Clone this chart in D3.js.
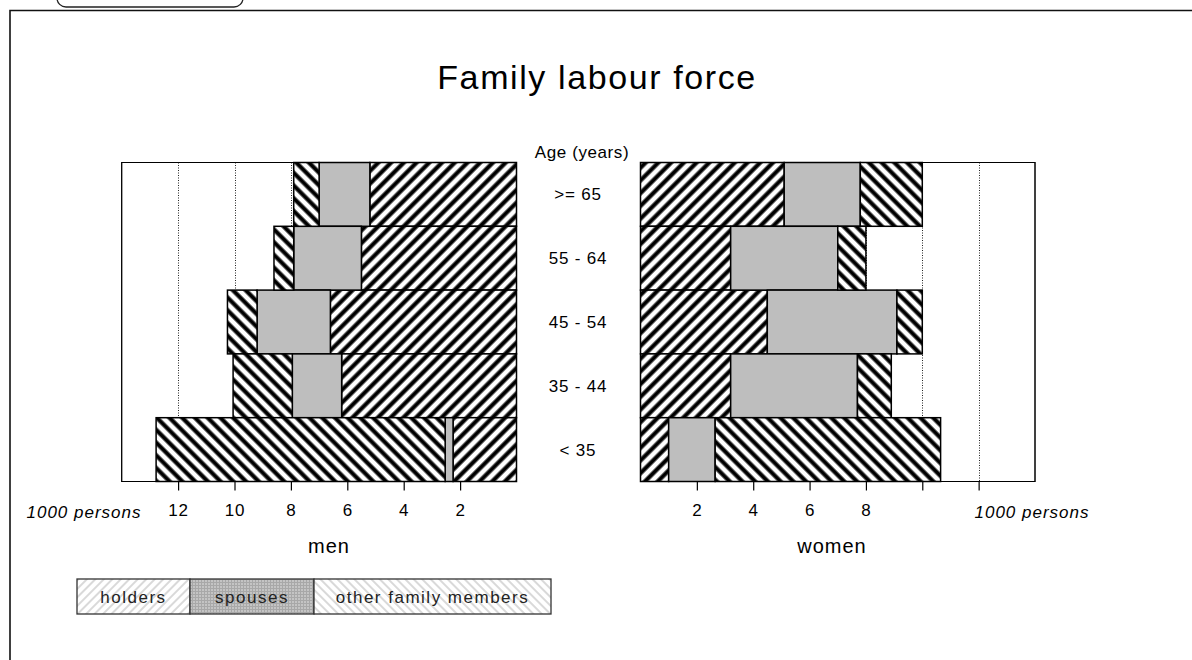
<!DOCTYPE html>
<html>
<head>
<meta charset="utf-8">
<script src="https://cdn.jsdelivr.net/npm/d3@7"></script>
<style>
  body { margin: 0; background: #fff; }
  svg { display: block; font-family: "Liberation Sans", Arial, sans-serif; }
</style>
</head>
<body>
<div id="chart"></div>
<script>
// Age groups, top to bottom
const ages = [">= 65", "55 - 64", "45 - 54", "35 - 44", "< 35"];

// values in 1000 persons
const menHolders   = [5.2, 5.5, 6.6, 6.2, 2.25];
const menSpouses   = [1.8, 2.4, 2.6, 1.75, 0.28];
const menOthers    = [0.9, 0.7, 1.05, 2.1, 10.25];
const womenHolders = [5.1, 3.2, 4.5, 3.2, 1.0];
const womenSpouses = [2.7, 3.8, 4.6, 4.5, 1.65];
const womenOthers  = [2.2, 1.0, 0.9, 1.2, 8.0];

const menTicks = [12, 10, 8, 6, 4, 2];
const womenTicks = [2, 4, 6, 8, 10, 12];
const womenTickLabels = [2, 4, 6, 8];
const gridValues = [8, 10, 12];
const legendLabels = ["holders", "spouses", "other family members"];

const width = 1192, height = 660;

const svg = d3.select("#chart").append("svg")
    .attr("width", width)
    .attr("height", height);

// Patterns
const defs = svg.append("defs");
function hatch(id, angle, size, lineW, color, bg) {
    const p = defs.append("pattern")
        .attr("id", id)
        .attr("patternUnits", "userSpaceOnUse")
        .attr("width", size).attr("height", size)
        .attr("patternTransform", `rotate(${angle})`);
    p.append("rect").attr("width", size).attr("height", size).attr("fill", bg);
    p.append("line")
        .attr("x1", size / 2).attr("y1", 0)
        .attr("x2", size / 2).attr("y2", size)
        .attr("stroke", color).attr("stroke-width", lineW);
}
hatch("holdersFill", 45, 9, 4.2, "#000", "#fff");
hatch("othersFill", -45, 9, 4.2, "#000", "#fff");
hatch("legHolders", 45, 6, 1.6, "#d0d0d0", "#fff");
hatch("legOthers", -45, 6, 1.6, "#d0d0d0", "#fff");
const grid = defs.append("pattern")
    .attr("id", "legSpouses")
    .attr("patternUnits", "userSpaceOnUse")
    .attr("width", 3).attr("height", 3);
grid.append("rect").attr("width", 3).attr("height", 3).attr("fill", "#c4c4c4");
grid.append("path").attr("d", "M0,0.5H3M0.5,0V3").attr("stroke", "#a8a8a8").attr("stroke-width", 1);

const fills = ["url(#holdersFill)", "#bebebe", "url(#othersFill)"];

// Outer frame and tab
svg.append("path")
    .attr("d", `M10,${height}V10.5H${width}`)
    .attr("fill", "none").attr("stroke", "#111").attr("stroke-width", 1.6);
svg.append("rect")
    .attr("x", 57).attr("y", -30).attr("width", 186).attr("height", 37)
    .attr("rx", 9)
    .attr("fill", "#fff").attr("stroke", "#222").attr("stroke-width", 1.3);

// Title
svg.append("text")
    .attr("x", 597).attr("y", 89)
    .attr("text-anchor", "middle")
    .style("font-size", "34px")
    .style("letter-spacing", "1.6px")
    .text("Family labour force");

// Scales
const y = d3.scaleBand().domain(ages).range([162.5, 481.5]).padding(0);
const xMen = d3.scaleLinear().domain([0, 14]).range([516.5, 121.7]);
const xWomen = d3.scaleLinear().domain([0, 14]).range([640.5, 1035]);

const keys = ["holders", "spouses", "others"];
function rows(h, s, o) {
    return ages.map((a, i) => ({ age: a, holders: h[i], spouses: s[i], others: o[i] }));
}
const stack = d3.stack().keys(keys);

function drawPanel(x, data, ticks, tickLabels, unitX, name, nameX) {
    const g = svg.append("g");
    const [r0, r1] = x.range();
    const left = Math.min(r0, r1), right = Math.max(r0, r1);

    // panel box
    g.append("rect")
        .attr("x", left).attr("y", y.range()[0])
        .attr("width", right - left).attr("height", y.range()[1] - y.range()[0])
        .attr("fill", "#fff").attr("stroke", "#000").attr("stroke-width", 1);

    // dotted gridlines
    g.selectAll(".grid").data(gridValues).enter().append("line")
        .attr("x1", d => Math.round(x(d)) + 0.5).attr("x2", d => Math.round(x(d)) + 0.5)
        .attr("y1", y.range()[0]).attr("y2", y.range()[1])
        .attr("stroke", "#222").attr("stroke-width", 1)
        .attr("stroke-dasharray", "1,1.5");

    // stacked bars
    const series = stack(data);
    series.forEach((s, k) => {
        g.selectAll(".seg" + k).data(s).enter().append("rect")
            .attr("x", d => Math.min(x(d[0]), x(d[1])))
            .attr("width", d => Math.abs(x(d[1]) - x(d[0])))
            .attr("y", d => y(d.data.age))
            .attr("height", y.bandwidth())
            .attr("fill", fills[k])
            .attr("stroke", "#000").attr("stroke-width", 1.5);
    });

    // re-draw box edges on top
    g.append("rect")
        .attr("x", left).attr("y", y.range()[0])
        .attr("width", right - left).attr("height", y.range()[1] - y.range()[0])
        .attr("fill", "none").attr("stroke", "#000").attr("stroke-width", 1);

    // axis
    const axis = d3.axisBottom(x)
        .tickValues(ticks)
        .tickSize(9)
        .tickPadding(13)
        .tickFormat(d => tickLabels.includes(d) ? d : "");
    const ag = g.append("g")
        .attr("transform", `translate(0,${y.range()[1]})`)
        .call(axis);
    ag.select(".domain").remove();
    ag.selectAll("line").attr("stroke", "#000").attr("stroke-width", 1.2);
    ag.selectAll("text")
        .attr("fill", "#000")
        .style("font-family", "'Liberation Sans', Arial, sans-serif")
        .style("font-size", "17px")
        .style("letter-spacing", "0.8px");

    g.append("text")
        .attr("x", unitX).attr("y", 518)
        .attr("text-anchor", "middle")
        .style("font-size", "17px").style("font-style", "italic")
        .style("letter-spacing", "1px")
        .text("1000 persons");

    g.append("text")
        .attr("x", nameX).attr("y", 553)
        .attr("text-anchor", "middle")
        .style("font-size", "20px")
        .style("letter-spacing", "1px")
        .text(name);
}

drawPanel(xMen, rows(menHolders, menSpouses, menOthers), menTicks, menTicks, 84, "men", 329);
drawPanel(xWomen, rows(womenHolders, womenSpouses, womenOthers), womenTicks, womenTickLabels, 1032, "women", 832);

// Age labels
svg.append("text")
    .attr("x", 582).attr("y", 158)
    .attr("text-anchor", "middle")
    .style("font-size", "17px")
    .style("letter-spacing", "0.6px")
    .text("Age (years)");
svg.selectAll(".agelab").data(ages).enter().append("text")
    .attr("x", 578)
    .attr("y", d => y(d) + y.bandwidth() / 2 + 6)
    .attr("text-anchor", "middle")
    .style("font-size", "17px")
    .style("letter-spacing", "0.8px")
    .text(d => d);

// Legend
const legX = d3.scaleOrdinal().domain(legendLabels).range([77, 190, 314]);
const legW = d3.scaleOrdinal().domain(legendLabels).range([113, 124, 237]);
const legFill = ["url(#legHolders)", "url(#legSpouses)", "url(#legOthers)"];
const leg = svg.append("g");
leg.selectAll("rect").data(legendLabels).enter().append("rect")
    .attr("x", d => legX(d)).attr("y", 579)
    .attr("width", d => legW(d)).attr("height", 35)
    .attr("fill", (d, i) => legFill[i])
    .attr("stroke", "#333").attr("stroke-width", 1.3);
leg.selectAll("text").data(legendLabels).enter().append("text")
    .attr("x", d => legX(d) + legW(d) / 2).attr("y", 603)
    .attr("text-anchor", "middle")
    .attr("fill", "#222")
    .style("font-size", "17px")
    .style("letter-spacing", "1.5px")
    .text(d => d);
</script>
</body>
</html>
